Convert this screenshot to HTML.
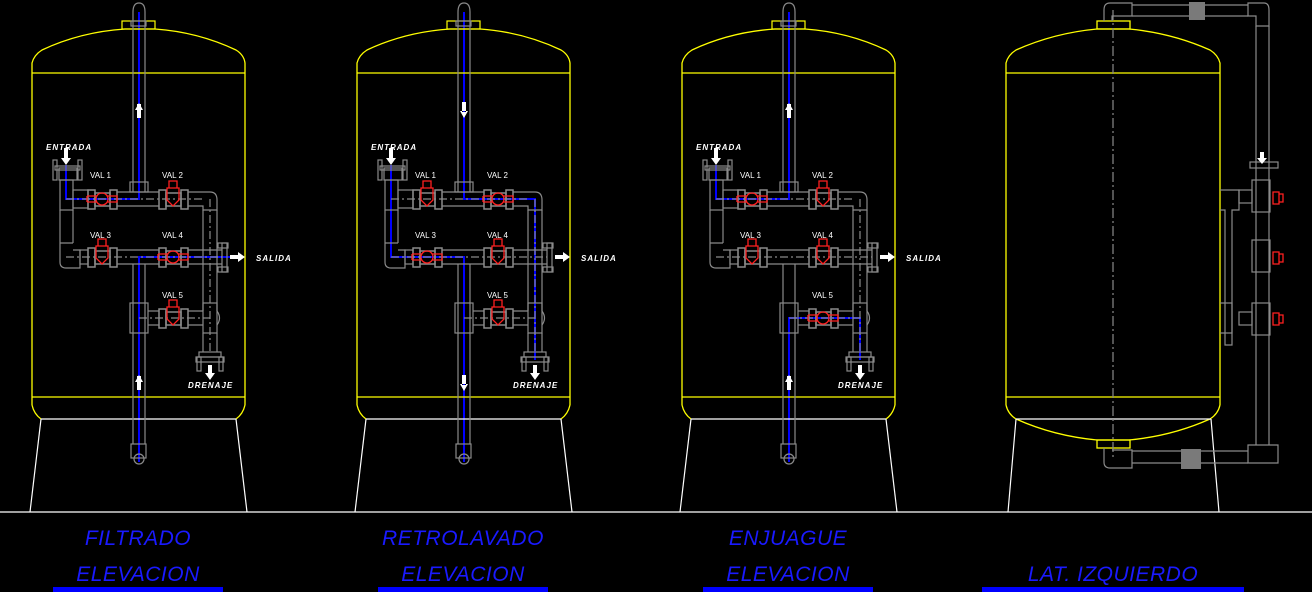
<!DOCTYPE html>
<html><head><meta charset="utf-8"><style>
html,body{margin:0;padding:0;background:#000;}
svg{display:block;}
.lbl{font-family:"Liberation Sans",sans-serif;font-style:italic;fill:#1a1aff;font-size:21px;letter-spacing:0.5px;}
.sm{font-family:"Liberation Sans",sans-serif;font-size:8px;fill:#fff;}
.it{font-family:"Liberation Sans",sans-serif;font-size:8px;fill:#fff;font-style:italic;font-weight:bold;letter-spacing:1px;}
</style></head><body>
<svg width="1312" height="592" viewBox="0 0 1312 592" xmlns="http://www.w3.org/2000/svg">
<defs>
<g id="tank">
  <path d="M32,73 V63 Q34,55 42,50 Q80,32 125,29 L155,29 Q198,32 236,50 Q244,55 245,63 V73" fill="none" stroke="#ffff00" stroke-width="1.3"/>
  <line x1="32" y1="73" x2="245" y2="73" stroke="#ffff00" stroke-width="1.3"/>
  <line x1="32" y1="73" x2="32" y2="405" stroke="#ffff00" stroke-width="1.3"/>
  <line x1="245" y1="73" x2="245" y2="405" stroke="#ffff00" stroke-width="1.3"/>
  <line x1="32" y1="397" x2="245" y2="397" stroke="#ffff00" stroke-width="1.3"/>
  <path d="M32,405 Q34,414 41,419 M245,405 Q243,414 236,419" fill="none" stroke="#ffff00" stroke-width="1.3"/>
  <rect x="122" y="21" width="33" height="8" fill="none" stroke="#ffff00" stroke-width="1.2"/>
  <line x1="41" y1="419" x2="236" y2="419" stroke="#fff" stroke-width="1.2"/>
  <line x1="41" y1="419" x2="30" y2="512" stroke="#fff" stroke-width="1.2"/>
  <line x1="236" y1="419" x2="247" y2="512" stroke="#fff" stroke-width="1.2"/>
  <g fill="none" stroke="#8a8a8a" stroke-width="1.2">
    <path d="M133,30 V12 Q133,3 139,3 Q145,3 145,12 V30"/>
    <rect x="131" y="21" width="15" height="5"/>
    <line x1="133" y1="30" x2="133" y2="192"/><line x1="145" y1="30" x2="145" y2="192"/>
    <rect x="130" y="182" width="18" height="10"/>
    <line x1="133" y1="264" x2="133" y2="444"/><line x1="145" y1="264" x2="145" y2="444"/>
    <rect x="131" y="444" width="15" height="14"/>
    <circle cx="139" cy="459" r="5"/>
    <rect x="59" y="168" width="18" height="12"/>
    <rect x="55" y="166" width="25" height="4"/>
    <rect x="53" y="160" width="4" height="20"/><rect x="78" y="160" width="4" height="20"/>
    <rect x="60" y="180" width="13" height="30"/>
    <line x1="60" y1="210" x2="60" y2="243"/><line x1="73" y1="210" x2="73" y2="243"/>
    <path d="M60,243 H73 M60,243 V262 Q60,268 66,268 H80 V250 H73"/>
    <rect x="73" y="190" width="15" height="18"/>
    <line x1="117" y1="192" x2="159" y2="192"/><line x1="117" y1="206" x2="159" y2="206"/>
    <path d="M188,192 H210 Q217,192 217,200 V210 H203 V206 H188"/>
    <line x1="203" y1="210" x2="203" y2="311"/><line x1="217" y1="210" x2="217" y2="311"/>
    <rect x="80" y="250" width="8" height="14"/>
    <line x1="117" y1="250" x2="159" y2="250"/><line x1="117" y1="264" x2="159" y2="264"/>
    <line x1="188" y1="250" x2="222" y2="250"/><line x1="188" y1="264" x2="222" y2="264"/>
    <rect x="222" y="243" width="5" height="29"/>
    <rect x="218" y="243" width="10" height="5"/><rect x="218" y="267" width="10" height="5"/>
    <rect x="130" y="303" width="18" height="30"/>
    <line x1="148" y1="311" x2="159" y2="311"/><line x1="148" y1="325" x2="159" y2="325"/>
    <path d="M188,311 H203 M188,325 H203 M217,311 Q222,318 217,325"/>
    <rect x="203" y="303" width="14" height="30"/>
    <line x1="203" y1="333" x2="203" y2="352"/><line x1="217" y1="333" x2="217" y2="352"/>
    <rect x="199" y="352" width="22" height="5"/>
    <rect x="196" y="357" width="28" height="5"/>
    <rect x="197" y="357" width="4" height="14"/><rect x="219" y="357" width="4" height="14"/>
    <line x1="66" y1="199" x2="203" y2="199" stroke-dasharray="8,3,2,3"/>
    <line x1="66" y1="257" x2="222" y2="257" stroke-dasharray="8,3,2,3"/>
    <line x1="139" y1="318" x2="210" y2="318" stroke-dasharray="8,3,2,3"/>
    <line x1="210" y1="199" x2="210" y2="352" stroke-dasharray="8,3,2,3"/>
  </g>
  <g fill="none" stroke="#8a8a8a" stroke-width="1.5">
    <rect x="88" y="190" width="7" height="19"/><rect x="110" y="190" width="7" height="19"/><rect x="95" y="193" width="15" height="13"/>
    <rect x="159" y="190" width="7" height="19"/><rect x="181" y="190" width="7" height="19"/><rect x="166" y="193" width="15" height="13"/>
    <rect x="88" y="248" width="7" height="19"/><rect x="110" y="248" width="7" height="19"/><rect x="95" y="251" width="15" height="13"/>
    <rect x="159" y="248" width="7" height="19"/><rect x="181" y="248" width="7" height="19"/><rect x="166" y="251" width="15" height="13"/>
    <rect x="159" y="309" width="7" height="19"/><rect x="181" y="309" width="7" height="19"/><rect x="166" y="312" width="15" height="13"/>
  </g>
  <g fill="#fff">
    <path d="M64,148 H68 V158 H71 L66,165 L61,158 H64 Z"/>
    <path d="M230,255 H238 V252 L245,257 L238,262 V259 H230 Z"/>
    <path d="M208,365 H212 V373 H215 L210,380 L205,373 H208 Z"/>
  </g>
  <text class="sm" x="90" y="178">VAL 1</text><text class="sm" x="162" y="178">VAL 2</text>
  <text class="sm" x="90" y="238">VAL 3</text><text class="sm" x="162" y="238">VAL 4</text>
  <text class="sm" x="162" y="298">VAL 5</text>
  <text class="it" x="46" y="150">ENTRADA</text>
  <text class="it" x="256" y="261">SALIDA</text>
  <text class="it" x="188" y="388">DRENAJE</text>
</g>
<g id="vclosed"><path d="M-4,-18 h8 v7 h-8 z M-6,-11 h12 v12 l-6,6 l-6,-6 z" fill="none" stroke="#ff2020" stroke-width="1.3"/></g>
<g id="vopen"><path d="M-15,-3 h10 M-15,3 h10 M-15,-3 v6 M5,-3 h10 v6 h-10" fill="none" stroke="#ff2020" stroke-width="1.3"/><ellipse cx="0" cy="0" rx="6" ry="6" fill="none" stroke="#ff2020" stroke-width="1.3"/></g>
</defs>

<line x1="0" y1="512" x2="1312" y2="512" stroke="#fff" stroke-width="1.3"/>

<!-- Tank 1 -->
<g stroke="#0000ff" stroke-width="2" fill="none"><path d="M66,165 V199 H139 V12"/><path d="M139,462 V257 H230"/></g>
<use href="#tank"/>
<use href="#vopen" x="102" y="199"/><use href="#vclosed" x="173" y="199"/>
<use href="#vclosed" x="102" y="257"/><use href="#vopen" x="173" y="257"/>
<use href="#vclosed" x="173" y="318"/>
<path d="M137,104 H141 V118 H137 Z M135,110 L139,103 L143,110 Z M137,376 H141 V390 H137 Z M135,382 L139,375 L143,382 Z" fill="#fff"/>

<!-- Tank 2 -->
<g transform="translate(325,0)">
<g stroke="#0000ff" stroke-width="2" fill="none"><path d="M66,165 V257 H139 V462"/><path d="M139,12 V199 H210 V360"/></g>
<use href="#tank"/>
<use href="#vclosed" x="102" y="199"/><use href="#vopen" x="173" y="199"/>
<use href="#vopen" x="102" y="257"/><use href="#vclosed" x="173" y="257"/>
<use href="#vclosed" x="173" y="318"/>
<path d="M137,102 H141 V112 H137 Z M135,111 L139,118 L143,111 Z M137,375 H141 V385 H137 Z M135,384 L139,391 L143,384 Z" fill="#fff"/>
</g>

<!-- Tank 3 -->
<g transform="translate(650,0)">
<g stroke="#0000ff" stroke-width="2" fill="none"><path d="M66,165 V199 H139 V12"/><path d="M139,462 V318 H210 V360"/></g>
<use href="#tank"/>
<use href="#vopen" x="102" y="199"/><use href="#vclosed" x="173" y="199"/>
<use href="#vclosed" x="102" y="257"/><use href="#vclosed" x="173" y="257"/>
<use href="#vopen" x="173" y="318"/>
<path d="M137,104 H141 V118 H137 Z M135,110 L139,103 L143,110 Z M137,376 H141 V390 H137 Z M135,382 L139,375 L143,382 Z" fill="#fff"/>
</g>

<!-- Tank 4 side -->
<g fill="none" stroke="#ffff00" stroke-width="1.3">
  <path d="M1006,73 V63 Q1008,55 1016,50 Q1054,33 1097,29 L1129,29 Q1172,33 1210,50 Q1218,55 1220,63 V73"/>
  <line x1="1006" y1="73" x2="1220" y2="73"/>
  <line x1="1006" y1="73" x2="1006" y2="405"/><line x1="1220" y1="73" x2="1220" y2="405"/>
  <line x1="1006" y1="397" x2="1220" y2="397"/>
  <path d="M1006,405 Q1008,414 1016,419 Q1054,436 1097,440 L1129,440 Q1172,436 1210,419 Q1218,414 1220,405"/>
  <rect x="1097" y="21" width="33" height="8"/>
  <rect x="1097" y="440" width="33" height="8"/>
</g>
<g stroke="#fff" stroke-width="1.2" fill="none">
  <line x1="1016" y1="419" x2="1211" y2="419"/>
  <line x1="1016" y1="419" x2="1008" y2="512"/><line x1="1211" y1="419" x2="1219" y2="512"/>
</g>
<g fill="none" stroke="#8a8a8a" stroke-width="1.2">
  <line x1="1113" y1="10" x2="1113" y2="460" stroke-dasharray="10,3,2,3"/>
  <path d="M1104,21 V10 Q1104,3 1110,3 H1132 V16 H1112 V21"/>
  <line x1="1132" y1="5" x2="1248" y2="5"/><line x1="1132" y1="16" x2="1248" y2="16"/>
  <path d="M1248,3 H1264 Q1269,3 1269,10 V26 H1256 V16 H1248 Z"/>
  <line x1="1256" y1="26" x2="1256" y2="445"/><line x1="1269" y1="26" x2="1269" y2="445"/>
  <path d="M1248,445 H1278 V463 H1248 Z"/>
  <line x1="1132" y1="451" x2="1248" y2="451"/><line x1="1132" y1="463" x2="1248" y2="463"/>
  <path d="M1104,448 V462 Q1104,468 1110,468 H1132 V450 H1112"/>
  <rect x="1250" y="162" width="28" height="6"/>
  <rect x="1252" y="180" width="18" height="32"/>
  <rect x="1252" y="240" width="18" height="32"/>
  <rect x="1252" y="303" width="18" height="32"/>
  <rect x="1239" y="190" width="13" height="13"/>
  <rect x="1239" y="312" width="13" height="13"/>
  <path d="M1220,190 H1239 V210 H1232 V345 H1225 V210 H1220"/>
  <path d="M1220,303 H1232 V333 H1220"/>
</g>
<g fill="#7a7a7a"><rect x="1189" y="2" width="16" height="18"/><rect x="1181" y="449" width="20" height="20"/></g>
<g fill="none" stroke="#ff2020" stroke-width="1.3">
  <path d="M1273,192 h6 v12 h-6 z M1279,194 h4 v8 h-4"/>
  <path d="M1273,252 h6 v12 h-6 z M1279,254 h4 v8 h-4"/>
  <path d="M1273,313 h6 v12 h-6 z M1279,315 h4 v8 h-4"/>
</g>
<path d="M1260,152 H1264 V158 H1267 L1262,164 L1257,158 H1260 Z" fill="#fff"/>

<!-- labels -->
<text class="lbl" x="138" y="545" text-anchor="middle">FILTRADO</text>
<text class="lbl" x="138" y="581" text-anchor="middle">ELEVACION</text>
<rect x="53" y="587" width="170" height="5" fill="#0000ff"/>
<text class="lbl" x="463" y="545" text-anchor="middle">RETROLAVADO</text>
<text class="lbl" x="463" y="581" text-anchor="middle">ELEVACION</text>
<rect x="378" y="587" width="170" height="5" fill="#0000ff"/>
<text class="lbl" x="788" y="545" text-anchor="middle">ENJUAGUE</text>
<text class="lbl" x="788" y="581" text-anchor="middle">ELEVACION</text>
<rect x="703" y="587" width="170" height="5" fill="#0000ff"/>
<text class="lbl" x="1113" y="581" text-anchor="middle">LAT. IZQUIERDO</text>
<rect x="982" y="587" width="262" height="5" fill="#0000ff"/>
</svg>
</body></html>
